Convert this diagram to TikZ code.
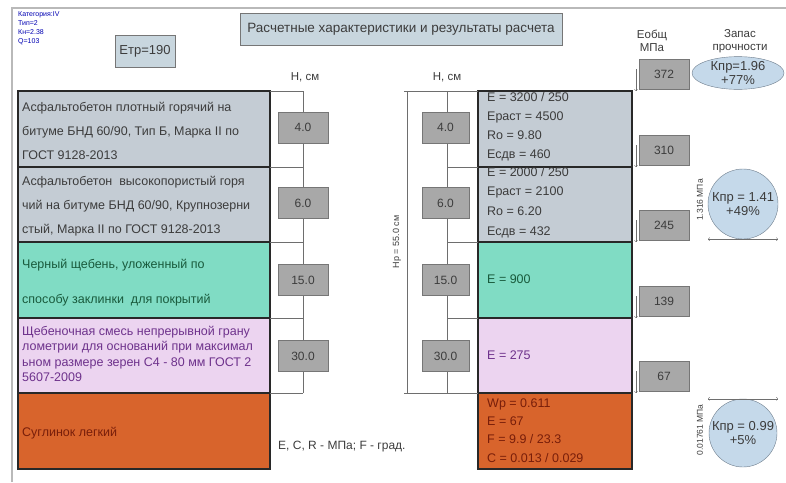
\documentclass[tikz,border=0pt]{standalone}
\usepackage{fontspec}
\setmainfont{Liberation Sans}
\usetikzlibrary{shapes.geometric, arrows}

\definecolor{asph}{RGB}{196,204,212}
\definecolor{aqua}{RGB}{128,220,196}
\definecolor{lilac}{RGB}{236,212,240}
\definecolor{loam}{RGB}{216,100,44}
\definecolor{boxgray}{RGB}{168,168,168}
\definecolor{boxline}{RGB}{118,118,118}
\definecolor{headfill}{RGB}{200,214,222}
\definecolor{safefill}{RGB}{197,217,234}
\definecolor{safeline}{RGB}{110,125,140}
\definecolor{darktext}{RGB}{60,60,60}
\definecolor{greentext}{RGB}{25,90,60}
\definecolor{purpletext}{RGB}{110,50,140}
\definecolor{redtext}{RGB}{120,30,10}
\definecolor{layerline}{RGB}{40,40,40}
\definecolor{scaleline}{RGB}{110,110,110}

\begin{document}
\begin{tikzpicture}[x=1pt,y=-1pt,
    hbox/.style={draw=boxline,fill=boxgray,minimum width=50pt,minimum height=31pt,inner sep=0pt,
      font=\fontsize{12}{14}\selectfont,text=darktext},
    ebox/.style={hbox,minimum width=50pt,minimum height=30pt},
    headbox/.style={draw=boxline,fill=headfill,inner sep=0pt,font=\fontsize{13}{15}\selectfont,text=darktext},
    safety/.style={draw=safeline,fill=safefill,inner sep=0pt,align=center,
      font=\fontsize{13}{14}\selectfont,text=darktext},
    layertext/.style={anchor=west,inner sep=0pt,align=left,text=darktext},
    note/.style={inner sep=0pt,align=center,text=darktext,font=\fontsize{11.5}{13}\selectfont}]
  \useasboundingbox (0,0) rectangle (786,482);
  % frame
  \draw[gray!55,line width=1.5pt] (12,482) -- (12,8) -- (786,8);
  \node[anchor=north west,inner sep=0pt,align=left,text=blue!70!black,font=\fontsize{7}{9}\selectfont]
    (info) at (18,11) {Категория:IV\\Тип=2\\Кн=2.38\\Q=103};
  \node[headbox,minimum width=60pt,minimum height=32pt] (etr) at (145,51) {Етр=190};
  \node[headbox,minimum width=322pt,minimum height=32pt,font=\fontsize{13.5}{15}\selectfont] (title) at (401,29)
    {Расчетные характеристики и результаты расчета};

  % layers
  \foreach \t/\b/\c in {91/167/asph,167/242/asph,242/318/aqua,318/393/lilac,393/469/loam} {
      \fill[\c] (18,\t) rectangle (270,\b);
      \fill[\c] (478,\t) rectangle (632,\b);
      \draw[layerline,line width=1.5pt] (18,\t) rectangle (270,\b);
      \draw[layerline,line width=1.5pt] (478,\t) rectangle (632,\b);
    }

  % thickness scales
  \node[note] (hleft) at (305,77) {Н, см};
  \node[note] (hright) at (447,77) {Н, см};
  \draw[scaleline] (303,91) -- (303,393);
  \draw[scaleline] (447,91) -- (447,393);
  \foreach \b in {91,167,242,318,393}
  \draw[scaleline] (270,\b) -- (303,\b);
  \foreach \b in {167,242,318}
  \draw[scaleline] (447,\b) -- (478,\b);
  \draw[scaleline] (404,91) -- (478,91);
  \draw[scaleline] (404,393) -- (478,393);
  \draw[scaleline] (407,91) -- (407,393);
  \node[rotate=90,inner sep=0pt,text=darktext,font=\fontsize{9}{10}\selectfont] (hp) at (397,242) {Нр = 55.0 см};
  \foreach \y/\h [count=\i] in {127.5/4.0,203/6.0,280/15.0,356/30.0} {
      \node[hbox] (hl\i) at (303,\y) {\h};
      \node[hbox,minimum width=47pt] (hr\i) at (445.5,\y) {\h};
    }

  % layer names
  \node[layertext,font=\fontsize{12.5}{24}\selectfont] (name1) at (22,130.5)
    {Асфальтобетон плотный горячий на\\битуме БНД 60/90, Тип Б, Марка II по\\ГОСТ 9128-2013};
  \node[layertext,font=\fontsize{12.5}{24}\selectfont] (name2) at (22,206)
    {Асфальтобетон\ \ высокопористый горя\\чий на битуме БНД 60/90, Крупнозерни\\стый, Марка II по ГОСТ 9128-2013};
  \node[layertext,text=greentext,font=\fontsize{12.5}{35}\selectfont] (name3) at (22,282.5)
    {Черный щебень, уложенный по\\способу заклинки\ \ для покрытий};
  \node[layertext,text=purpletext,font=\fontsize{12.5}{15.3}\selectfont] (name4) at (22,354)
    {Щебеночная смесь непрерывной грану\\лометрии для оснований при максимал\\ьном размере зерен С4 - 80 мм ГОСТ 2\\5607-2009};
  \node[layertext,text=redtext,font=\fontsize{12.5}{15}\selectfont] (name5) at (22,433) {Суглинок легкий};

  % layer data
  \node[layertext,font=\fontsize{12.5}{19}\selectfont] (data1) at (487,126.5)
    {E = 3200 / 250\\Ераст = 4500\\Ro = 9.80\\Есдв = 460};
  \node[layertext,font=\fontsize{12.5}{19.7}\selectfont] (data2) at (487,202.5)
    {E = 2000 / 250\\Ераст = 2100\\Ro = 6.20\\Есдв = 432};
  \node[layertext,text=greentext,font=\fontsize{12.5}{15}\selectfont] (data3) at (487,279) {E = 900};
  \node[layertext,text=purpletext,font=\fontsize{12.5}{15}\selectfont] (data4) at (487,355) {E = 275};
  \node[layertext,text=redtext,font=\fontsize{12.5}{18.3}\selectfont] (data5) at (487,430.5)
    {Wp = 0.611\\E = 67\\F = 9.9 / 23.3\\C = 0.013 / 0.029};
  \node[layertext,font=\fontsize{12}{14}\selectfont] (units) at (278,447) {E, C, R - МПа; F - град.};

  % total modulus
  \node[note] (etot) at (652,41) {Еобщ\\МПа};
  \foreach \b/\e [count=\i] in {91/372,167/310,242/245,318/139,393/67} {
      \node[ebox] (e\i) at (664,\b-17) {\e};
      \draw[->,scaleline] (636,\b-22) -- (636,\b);
    }

  % strength margin
  \node[note] (margin) at (740,41) {Запас\\прочности};
  \node[safety,ellipse,minimum width=92pt,minimum height=30pt] (k1) at (738,73) {Кпр=1.96\\+77\%};
  \node[safety,circle,minimum size=70pt] (k2) at (743,204) {Кпр = 1.41\\+49\%};
  \node[safety,circle,minimum size=68pt] (k3) at (743,433) {Кпр = 0.99\\+5\%};
  \draw[<->,scaleline] (k2.south) ++(-35,0) -- ++(70,0);
  \draw[<->,scaleline] (k3.north) ++(-35,0) -- ++(70,0);
  \node[rotate=90,inner sep=0pt,text=darktext,font=\fontsize{8.5}{10}\selectfont] (s2) at (700,200) {1.316 МПа};
  \node[rotate=90,inner sep=0pt,text=darktext,font=\fontsize{8.5}{10}\selectfont] (s3) at (700,430) {0.01761 МПа};
\end{tikzpicture}
\end{document}
